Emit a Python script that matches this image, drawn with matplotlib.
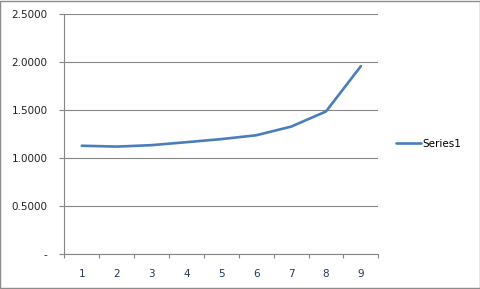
import matplotlib
matplotlib.use("Agg")
import matplotlib.pyplot as plt
from matplotlib.ticker import FixedLocator, FuncFormatter

categories = [1, 2, 3, 4, 5, 6, 7, 8, 9]
series1 = [1.131, 1.122, 1.137, 1.168, 1.200, 1.240, 1.330, 1.488, 1.960]
y_ticks = [0.0, 0.5, 1.0, 1.5, 2.0, 2.5]

fig = plt.figure(figsize=(4.81, 2.89), dpi=100)
fig.patch.set_facecolor("white")
# outer border
fig.add_artist(plt.Rectangle((0.001, 0.002), 0.997, 0.995, transform=fig.transFigure,
                             fill=False, edgecolor="#8c8c8c", linewidth=1.0))

ax = fig.add_axes([0.1337, 0.120, 0.6528, 0.8305])
xpos = list(range(1, len(categories) + 1))
line, = ax.plot(xpos, series1, color="#4a7ebb", linewidth=1.9, solid_joinstyle="round",
                solid_capstyle="round", label="Series1")

ax.set_xlim(0.5, len(categories) + 0.5)
ax.set_ylim(0, 2.5)
ax.yaxis.set_major_locator(FixedLocator(y_ticks))
ax.yaxis.set_major_formatter(FuncFormatter(lambda v, p: "-" if abs(v) < 1e-9 else f"{v:.4f}"))
ax.set_xticks(xpos)
ax.set_xticklabels([str(c) for c in categories])
ax.set_xticks([x + 0.5 for x in [0] + xpos], minor=True)

ax.grid(axis="y", color="#868686", linewidth=0.8)
ax.set_axisbelow(True)
for s in ["top", "right"]:
    ax.spines[s].set_visible(False)
for s in ["left", "bottom"]:
    ax.spines[s].set_color("#868686")
    ax.spines[s].set_linewidth(0.8)

ax.tick_params(axis="y", direction="out", length=3.6, width=0.8, color="#868686",
               pad=8.5, labelsize=7.5, labelcolor="#222222")
ax.tick_params(axis="x", which="major", length=0, pad=10.5, labelsize=7.5, labelcolor="#1f3864")
ax.tick_params(axis="x", which="minor", direction="out", length=3, width=0.8, color="#868686")

leg = fig.legend(handles=[line], labels=["Series1"], loc="center left",
                 bbox_to_anchor=(0.815, 0.503), frameon=False, fontsize=7.5,
                 handlelength=2.4, handletextpad=0.1, borderaxespad=0)

fig.savefig("out.png", dpi=100)
